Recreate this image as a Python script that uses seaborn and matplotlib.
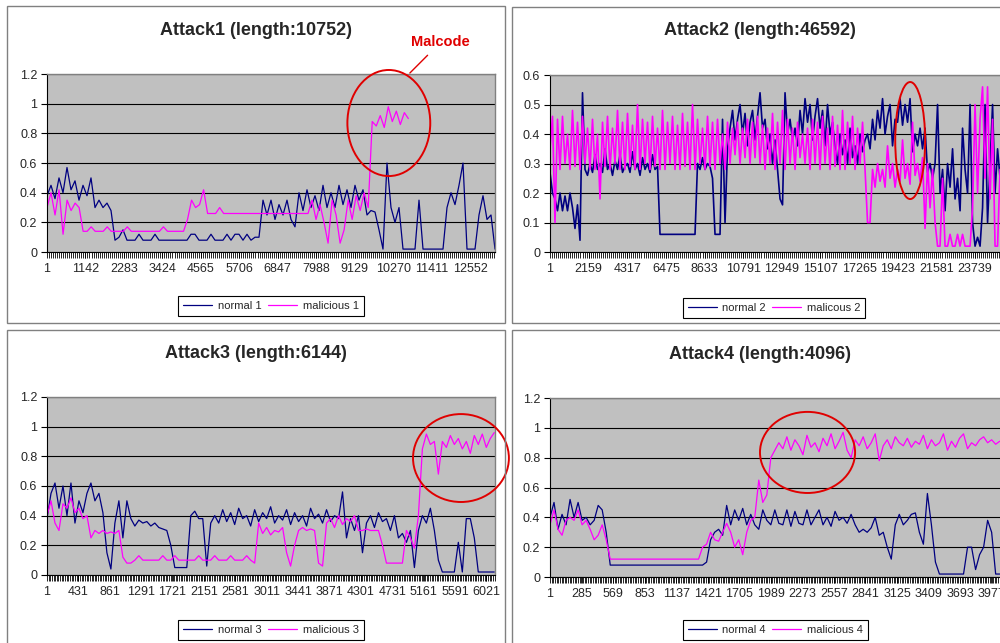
import numpy as np
import pandas as pd
import matplotlib.pyplot as plt
import seaborn as sns
from matplotlib.patches import Ellipse, Rectangle
from matplotlib.ticker import MultipleLocator

sns.set_style("white")
plt.rcParams['font.family'] = ['Liberation Sans', 'DejaVu Sans']

NAVY = '#000080'
PINK = '#FF00FF'

normal1 = [0.38, 0.45, 0.36, 0.50, 0.40, 0.57, 0.42, 0.48, 0.35, 0.45,
           0.38, 0.50, 0.30, 0.35, 0.30, 0.33, 0.28, 0.08, 0.10, 0.15,
           0.08, 0.08, 0.08, 0.12, 0.08, 0.08, 0.08, 0.12, 0.08, 0.08,
           0.08, 0.08, 0.08, 0.08, 0.08, 0.08, 0.12, 0.12, 0.08, 0.08,
           0.08, 0.12, 0.08, 0.08, 0.08, 0.12, 0.08, 0.12, 0.12, 0.08,
           0.12, 0.08, 0.10, 0.10, 0.35, 0.25, 0.35, 0.22, 0.32, 0.25,
           0.35, 0.22, 0.17, 0.40, 0.28, 0.42, 0.30, 0.38, 0.28, 0.45,
           0.30, 0.40, 0.30, 0.45, 0.32, 0.42, 0.30, 0.45, 0.35, 0.42,
           0.25, 0.28, 0.27, 0.15, 0.02, 0.60, 0.30, 0.20, 0.30, 0.02,
           0.02, 0.02, 0.02, 0.35, 0.02, 0.02, 0.02, 0.02, 0.02, 0.02,
           0.30, 0.40, 0.32, 0.45, 0.60, 0.02, 0.02, 0.02, 0.25, 0.38,
           0.22, 0.25, 0.02]
malicious1 = [0.30, 0.40, 0.25, 0.42, 0.12, 0.35, 0.28, 0.33, 0.30, 0.14,
              0.14, 0.17, 0.14, 0.14, 0.14, 0.17, 0.14, 0.14, 0.14, 0.14,
              0.17, 0.14, 0.14, 0.14, 0.14, 0.14, 0.14, 0.14, 0.14, 0.17,
              0.14, 0.14, 0.14, 0.14, 0.14, 0.22, 0.35, 0.30, 0.32, 0.42,
              0.26, 0.26, 0.26, 0.30, 0.26, 0.26, 0.26, 0.26, 0.26, 0.26,
              0.26, 0.26, 0.26, 0.26, 0.26, 0.26, 0.26, 0.26, 0.26, 0.26,
              0.26, 0.26, 0.26, 0.26, 0.26, 0.26, 0.35, 0.22, 0.32, 0.20,
              0.06, 0.35, 0.25, 0.06, 0.15, 0.35, 0.22, 0.38, 0.28, 0.40,
              0.30, 0.88, 0.85, 0.92, 0.84, 0.98, 0.88, 0.95, 0.86, 0.94,
              0.90]

# attack 2 is denser, sampled about every 2.5 px
normal2 = [0.27, 0.20, 0.18, 0.14, 0.20, 0.14, 0.19, 0.14, 0.20, 0.15,
           0.08, 0.16, 0.04, 0.54, 0.28,
           0.26, 0.30, 0.27, 0.33, 0.28, 0.30, 0.27, 0.35, 0.28, 0.30,
           0.26, 0.31, 0.28, 0.33, 0.27, 0.29, 0.30, 0.27, 0.34, 0.28,
           0.30, 0.26, 0.32, 0.28, 0.30, 0.27, 0.33, 0.28, 0.29,
           0.06, 0.06, 0.06, 0.06, 0.06, 0.06, 0.06, 0.06, 0.06, 0.06,
           0.06, 0.06, 0.06, 0.06, 0.06,
           0.30, 0.28, 0.32, 0.28, 0.30, 0.29,
           0.25, 0.06, 0.06, 0.06, 0.45, 0.10, 0.35,
           0.42, 0.48, 0.38, 0.45, 0.50, 0.40, 0.47, 0.36, 0.44, 0.48,
           0.38, 0.46, 0.54, 0.42, 0.45,
           0.35, 0.40, 0.30, 0.38, 0.28, 0.18, 0.16,
           0.54, 0.40, 0.45, 0.38, 0.42, 0.36, 0.48, 0.40, 0.52, 0.44,
           0.50, 0.38, 0.46, 0.52, 0.42, 0.48, 0.36, 0.50, 0.40, 0.44,
           0.35, 0.30, 0.40, 0.33, 0.38, 0.30, 0.42, 0.32, 0.36, 0.30,
           0.40, 0.34, 0.38,
           0.40, 0.35, 0.45, 0.38, 0.48, 0.42, 0.52, 0.40, 0.46, 0.50,
           0.36, 0.45,
           0.44, 0.52, 0.43, 0.50, 0.44, 0.52,
           0.34, 0.40, 0.36, 0.42, 0.35, 0.42,
           0.27, 0.30, 0.25, 0.30, 0.50, 0.20, 0.28, 0.14, 0.30, 0.22,
           0.35, 0.18, 0.25, 0.14, 0.42, 0.28, 0.20, 0.50, 0.10, 0.02,
           0.05, 0.02, 0.15, 0.50, 0.10, 0.30, 0.50, 0.20, 0.35, 0.25]
malicious2 = [0.35, 0.46, 0.10, 0.45, 0.28, 0.46, 0.30, 0.40, 0.28, 0.48,
              0.29, 0.44, 0.28, 0.46, 0.30, 0.42, 0.28, 0.45, 0.28, 0.40,
              0.18, 0.44, 0.29, 0.46, 0.28, 0.42, 0.30, 0.48, 0.28, 0.44,
              0.28, 0.47, 0.29, 0.43, 0.28, 0.50, 0.28, 0.45, 0.30, 0.44,
              0.28, 0.46, 0.29, 0.42, 0.28, 0.48, 0.28, 0.44, 0.30, 0.46,
              0.28, 0.43, 0.28, 0.47, 0.29, 0.44, 0.28, 0.50, 0.28, 0.45,
              0.30, 0.42, 0.28, 0.46, 0.29, 0.44, 0.28, 0.45, 0.30, 0.40,
              0.28, 0.44, 0.30, 0.42, 0.33, 0.44, 0.30, 0.42, 0.32, 0.45,
              0.30, 0.44, 0.32, 0.46, 0.30, 0.43, 0.28, 0.42, 0.30, 0.47,
              0.28, 0.44, 0.30, 0.48, 0.28, 0.45, 0.30, 0.42, 0.28, 0.44,
              0.32, 0.40, 0.30, 0.42, 0.28, 0.45, 0.30, 0.44, 0.28, 0.46,
              0.30, 0.42, 0.28, 0.46, 0.29, 0.43, 0.28, 0.48, 0.28, 0.44,
              0.30, 0.46, 0.28, 0.42, 0.30, 0.44, 0.28, 0.10, 0.10, 0.28,
              0.22, 0.30, 0.24, 0.28, 0.22, 0.36, 0.25, 0.30, 0.22, 0.28,
              0.24, 0.38, 0.25, 0.30, 0.23, 0.44, 0.26, 0.30, 0.24, 0.32,
              0.08, 0.30, 0.15, 0.28, 0.10, 0.02, 0.02, 0.25, 0.02, 0.02,
              0.06, 0.02, 0.02, 0.06, 0.02, 0.06, 0.02, 0.02, 0.02, 0.15,
              0.50, 0.20, 0.45, 0.56, 0.25, 0.56, 0.18, 0.45, 0.02, 0.02,
              0.28]

normal3 = [0.38, 0.55, 0.62, 0.45, 0.60, 0.40, 0.62, 0.35, 0.50, 0.42,
           0.55, 0.62, 0.50, 0.55, 0.42, 0.15, 0.04, 0.35, 0.50, 0.25,
           0.50, 0.38, 0.33, 0.37, 0.35, 0.36, 0.33, 0.35, 0.32, 0.31,
           0.30, 0.20, 0.05, 0.05, 0.05, 0.05, 0.40, 0.43, 0.38, 0.38,
           0.06, 0.35,
           0.40, 0.35, 0.44, 0.36, 0.42, 0.34, 0.45, 0.38, 0.40, 0.33,
           0.44, 0.36, 0.42, 0.38, 0.46, 0.35, 0.40, 0.37, 0.44, 0.34,
           0.42, 0.36, 0.40, 0.33, 0.45, 0.38, 0.41, 0.35, 0.44, 0.36,
           0.40, 0.38, 0.56, 0.25, 0.38, 0.30, 0.40, 0.15, 0.35, 0.40,
           0.32, 0.42, 0.36, 0.38, 0.30, 0.40, 0.25, 0.28, 0.22, 0.30,
           0.05, 0.30, 0.40, 0.35, 0.45, 0.30, 0.10, 0.02, 0.02, 0.02,
           0.02, 0.22, 0.02, 0.38, 0.38, 0.25, 0.02, 0.02, 0.02, 0.02,
           0.02]
malicious3 = [0.40, 0.50, 0.35, 0.30, 0.48, 0.45, 0.52, 0.42, 0.45, 0.38,
              0.40, 0.25, 0.30, 0.28, 0.30, 0.28, 0.29, 0.28, 0.30, 0.12,
              0.08, 0.08, 0.10, 0.13, 0.10, 0.10, 0.10, 0.10, 0.10, 0.13,
              0.10, 0.10, 0.13, 0.10, 0.10, 0.10, 0.10, 0.10, 0.13, 0.10,
              0.10, 0.10, 0.13, 0.10, 0.10, 0.10, 0.13, 0.10, 0.10, 0.10,
              0.13, 0.10, 0.08, 0.35, 0.28, 0.32, 0.27, 0.30, 0.29, 0.32,
              0.15, 0.06, 0.20, 0.30, 0.32, 0.30, 0.31, 0.30, 0.08, 0.06,
              0.35, 0.38, 0.32, 0.40, 0.34, 0.38, 0.36, 0.40, 0.30, 0.30,
              0.31, 0.30, 0.30, 0.30, 0.20, 0.08, 0.08, 0.08, 0.08, 0.08,
              0.30, 0.25, 0.18, 0.40, 0.85, 0.95, 0.88, 0.90, 0.68, 0.90,
              0.86, 0.94, 0.88, 0.92, 0.85, 0.90, 0.82, 0.94, 0.88, 0.95,
              0.86, 0.92, 0.96]

normal4 = [0.40, 0.50, 0.32, 0.42, 0.35, 0.52, 0.40, 0.50, 0.38, 0.40,
           0.35, 0.38, 0.48, 0.45, 0.30, 0.08, 0.08, 0.08, 0.08, 0.08,
           0.08, 0.08, 0.08, 0.08, 0.08, 0.08, 0.08, 0.08, 0.08, 0.08,
           0.08, 0.08, 0.08, 0.08, 0.08, 0.08, 0.08, 0.08, 0.08, 0.10,
           0.25, 0.30, 0.32, 0.28, 0.48, 0.35, 0.45, 0.38, 0.46, 0.35,
           0.42, 0.35, 0.32, 0.45, 0.38, 0.35, 0.45, 0.36, 0.35, 0.45,
           0.34, 0.44, 0.36, 0.35, 0.45, 0.35, 0.40, 0.45, 0.35, 0.40,
           0.34, 0.44, 0.38, 0.40, 0.36, 0.42, 0.35, 0.30, 0.32, 0.30,
           0.33, 0.40, 0.28, 0.30, 0.20, 0.12, 0.35, 0.42, 0.35, 0.38,
           0.42, 0.43, 0.30, 0.22, 0.56, 0.35, 0.10, 0.02, 0.02, 0.02,
           0.02, 0.02, 0.02, 0.02, 0.20, 0.20, 0.05, 0.15, 0.20, 0.38,
           0.30, 0.02, 0.02]
malicious4 = [0.35, 0.45, 0.32, 0.28, 0.38, 0.40, 0.38, 0.45, 0.35, 0.38,
              0.32, 0.25, 0.28, 0.35, 0.25, 0.12, 0.12, 0.12, 0.12, 0.12,
              0.12, 0.12, 0.12, 0.12, 0.12, 0.12, 0.12, 0.12, 0.12, 0.12,
              0.12, 0.12, 0.12, 0.12, 0.12, 0.12, 0.12, 0.12, 0.20, 0.22,
              0.30, 0.25, 0.24, 0.30, 0.36, 0.30, 0.20, 0.25, 0.15, 0.30,
              0.38, 0.40, 0.65, 0.50, 0.55, 0.80, 0.85, 0.90,
              0.86, 0.94, 0.85, 0.92, 0.88, 0.82, 0.95, 0.87, 0.90, 0.84,
              0.93, 0.88, 0.96, 0.86, 0.91, 0.97, 0.85, 0.80, 0.92, 0.88,
              0.94, 0.86, 0.90, 0.96, 0.78, 0.88, 0.92, 0.86, 0.94, 0.90,
              0.88, 0.93, 0.87, 0.91, 0.89, 0.95, 0.86, 0.92, 0.88, 0.90,
              0.96, 0.85, 0.91, 0.87, 0.93, 0.96, 0.86, 0.90, 0.88, 0.92,
              0.94, 0.90, 0.92, 0.89, 0.91]

titles = ['Attack1 (length:10752)', 'Attack2 (length:46592)',
          'Attack3 (length:6144)', 'Attack4 (length:4096)']
legend_normal = ['normal 1', 'normal 2', 'normal 3', 'normal 4']
legend_mal = ['malicious 1', 'malicous 2', 'malicious 3', 'malicious 4']
tick_steps = [1141, 2158, 430, 284]

# ---------- layout (figure fractions, 1000 x 643 px) ----------
panels = [
    dict(normal=normal1, mal=malicious1, n_end=13290, m_end=10720,
         rect=[0.047, 0.608, 0.448, 0.2768], xmax=13290, ymax=1.2,
         box=[0.007, 0.4977, 0.498, 0.493], title_xy=(0.256, 0.953),
         leg_xy=(0.5, -0.303), ell=(0.763, 0.725, 0.185, 0.596), lw=0.9),
    dict(normal=normal2, mal=malicious2, n_end=25137, m_end=25137,
         rect=[0.550, 0.608, 0.460, 0.2753], xmax=25692, ymax=0.6,
         box=[0.512, 0.4977, 0.496, 0.492], title_xy=(0.760, 0.953),
         leg_xy=(0.487, -0.316), ell=(0.783, 0.63, 0.065, 0.661), lw=1.2),
    dict(normal=normal3, mal=malicious3, n_end=6130, m_end=6130,
         rect=[0.047, 0.1058, 0.448, 0.2768], xmax=6140, ymax=1.2,
         box=[0.007, -0.01, 0.498, 0.497], title_xy=(0.256, 0.451),
         leg_xy=(0.5, -0.309), ell=(0.924, 0.657, 0.214, 0.494), lw=0.9),
    dict(normal=normal4, mal=malicious4, n_end=4050, m_end=4050,
         rect=[0.550, 0.1026, 0.455, 0.2784], xmax=4098, ymax=1.2,
         box=[0.512, -0.01, 0.496, 0.497], title_xy=(0.760, 0.449),
         leg_xy=(0.495, -0.297), ell=(0.566, 0.696, 0.209, 0.453), lw=0.9),
]

fig = plt.figure(figsize=(10, 6.43), dpi=100)

axes = []
for k, p in enumerate(panels):
    fig.add_artist(Rectangle(p['box'][:2], p['box'][2], p['box'][3],
                             transform=fig.transFigure, fill=False,
                             edgecolor='#808080', linewidth=1.0))
    ax = fig.add_axes(p['rect'])
    ax.set_facecolor('#C0C0C0')

    xn = np.linspace(1, p['n_end'], len(p['normal']))
    xm = np.linspace(1, p['m_end'], len(p['mal']))
    sns.lineplot(x=xn, y=p['normal'], ax=ax, color=NAVY, linewidth=p['lw'],
                 label=legend_normal[k], estimator=None, sort=False)
    sns.lineplot(x=xm, y=p['mal'], ax=ax, color=PINK, linewidth=p['lw'],
                 label=legend_mal[k], estimator=None, sort=False)

    ax.set_xlim(1, p['xmax'])
    ax.set_ylim(0, p['ymax'])
    ystep = 0.2 if p['ymax'] > 1 else 0.1
    yt = np.round(np.arange(0, p['ymax'] + 1e-6, ystep), 1)
    ax.set_yticks(yt)
    ax.set_yticklabels(['%g' % v for v in yt])
    xt = np.arange(1, p['xmax'], tick_steps[k])
    ax.set_xticks(xt)
    ax.set_xticklabels([str(v) for v in xt])
    ax.xaxis.set_minor_locator(MultipleLocator(tick_steps[k] / 19))

    ax.yaxis.grid(True, color='black', linewidth=0.8)
    ax.xaxis.grid(False)
    ax.set_axisbelow(True)
    ax.set_xlabel('')
    ax.set_ylabel('')
    ax.tick_params(axis='x', which='both', length=4, width=0.6,
                   direction='out', color='black', labelsize=9, pad=4,
                   bottom=True)
    ax.tick_params(axis='y', length=4, width=0.8, direction='out',
                   color='black', labelsize=9, pad=3, left=True)
    for side in ['left', 'bottom']:
        ax.spines[side].set_color('black')
        ax.spines[side].set_linewidth(0.8)
    for side in ['top', 'right']:
        ax.spines[side].set_color('#808080')
        ax.spines[side].set_linewidth(1.0)

    leg = ax.legend(loc='center', bbox_to_anchor=p['leg_xy'], ncol=2,
                    frameon=True, fancybox=False, edgecolor='black',
                    fontsize=8, handlelength=2.6, columnspacing=0.6,
                    handletextpad=0.5, borderpad=0.45, framealpha=1)
    leg.get_frame().set_linewidth(0.8)
    for line in leg.get_lines():
        line.set_linewidth(0.9)

    fig.text(p['title_xy'][0], p['title_xy'][1], titles[k], ha='center',
             va='center', fontsize=13, fontweight='bold')

    ex, ey, ew, eh = p['ell']
    ax.add_patch(Ellipse((ex, ey), ew, eh, transform=ax.transAxes,
                         fill=False, edgecolor='#E00000', linewidth=1.4,
                         clip_on=False, zorder=5))
    axes.append(ax)

axes[0].annotate('Malcode', xy=(0.81, 1.006), xycoords='axes fraction',
                 xytext=(0.879, 1.18), textcoords='axes fraction',
                 color='#E00000', fontweight='bold', fontsize=10.5,
                 ha='center', va='center',
                 arrowprops=dict(arrowstyle='-', color='#E00000', lw=1.0,
                                 shrinkA=3, shrinkB=0))

fig.savefig('out.png', dpi=100)
